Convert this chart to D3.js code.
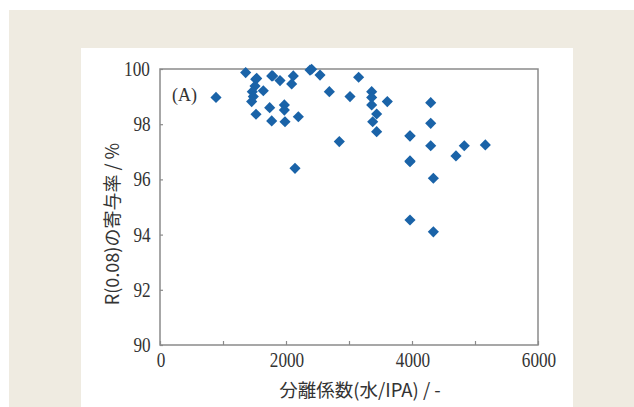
<!DOCTYPE html>
<html><head><meta charset="utf-8">
<script src="https://cdn.jsdelivr.net/npm/d3@7"></script>
<style>
html,body{margin:0;padding:0;background:#fff;}
svg{display:block;}
.cond{transform-box:fill-box;transform-origin:center;transform:scaleX(0.86);}
</style></head>
<body>
<svg id="c" width="634" height="407"></svg>
<script>
const sepFactor = [1360, 889, 1519, 1508, 1465, 1640, 1481, 1455, 1524, 1773, 1905, 2116, 2090, 1741, 1773, 1974, 1974, 1984, 2196, 2143, 2381,
  2407, 2540, 2688, 3153, 3016, 3360, 3360, 3360, 3608, 3439, 3376, 3439, 2846, 3968, 3968,
  4297, 4297, 3968, 4297, 4830, 5164, 4698, 3968, 4339, 3968, 4339, 1535, 1789];
const contribution = [99.87, 98.97, 99.63, 99.38, 99.18, 99.21, 99.0, 98.82, 98.36, 99.75, 99.58, 99.75, 99.46, 98.6, 98.12, 98.70, 98.51, 98.09, 98.27, 96.40, 99.96,
  99.99, 99.78, 99.18, 99.70, 99.0, 99.18, 98.97, 98.70, 98.82, 98.37, 98.09, 97.73, 97.37, 97.57, 96.64,
  98.78, 98.03, 97.58, 97.22, 97.22, 97.25, 96.85, 96.67, 96.04, 94.53, 94.10, 99.66, 99.75];
const xTickLabels = [0, 2000, 4000, 6000];
const xTicks = [0, 1000, 2000, 3000, 4000, 5000, 6000];
const yTickLabels = [90, 92, 94, 96, 98, 100];
const xTitle = "分離係数(水/IPA) / -";
const yTitle = "R(0.08)の寄与率 / %";
const panelLabel = "(A)";

const svg = d3.select("#c");
svg.append("rect").attr("x", 9).attr("y", 10).attr("width", 625).attr("height", 397).attr("fill", "#efebe1");
svg.append("rect").attr("x", 81).attr("y", 48).attr("width", 492).attr("height", 359).attr("fill", "#ffffff");

const L = 160, R = 538, T = 69, B = 345;
const x = d3.scaleLinear().domain([0, 6000]).range([L, R]);
const y = d3.scaleLinear().domain([90, 100]).range([B, T]);

const axisCol = "#8a8a8a";
const textCol = "#333";
const font = "'Liberation Serif', serif";

// frame
svg.append("rect").attr("x", L).attr("y", T).attr("width", R - L).attr("height", B - T)
  .attr("fill", "none").attr("stroke", axisCol).attr("stroke-width", 1.5);

// x axis
const xa = svg.append("g").attr("transform", `translate(0,${B})`)
  .call(d3.axisBottom(x).tickValues(xTicks).tickSizeInner(-4).tickSizeOuter(0).tickFormat(""));
xa.select(".domain").remove();
xa.selectAll("line").attr("stroke", axisCol).attr("stroke-width", 1.2);
svg.append("g").selectAll("text").data(xTickLabels).join("text")
  .attr("class", "cond")
  .attr("x", d => x(d) + 1).attr("y", 367)
  .attr("text-anchor", "middle").attr("font-family", font).attr("font-size", 20)
  .attr("fill", textCol).text(d => d);

// y axis
const ya = svg.append("g").attr("transform", `translate(${L},0)`)
  .call(d3.axisLeft(y).tickValues(yTickLabels).tickSizeInner(-3).tickSizeOuter(0).tickFormat(""));
ya.select(".domain").remove();
ya.selectAll("line").attr("stroke", axisCol).attr("stroke-width", 1.2);
svg.append("g").selectAll("text").data(yTickLabels).join("text")
  .attr("class", "cond")
  .attr("x", 152).attr("y", d => y(d) + 7)
  .attr("text-anchor", "end").attr("font-family", font).attr("font-size", 20)
  .attr("fill", textCol).text(d => d);

// titles
svg.append("text").attr("x", 360).attr("y", 397).attr("text-anchor", "middle")
  .attr("font-family", "'Noto Sans CJK JP', sans-serif").attr("font-size", 18.5)
  .attr("fill", textCol).text(xTitle);
svg.append("text").attr("transform", "translate(119,224) rotate(-90)").attr("text-anchor", "middle")
  .attr("font-family", "'Noto Sans CJK JP', sans-serif").attr("font-size", 18)
  .attr("fill", textCol).text(yTitle);

svg.append("text").attr("x", 172).attr("y", 101).attr("font-family", font).attr("font-size", 18)
  .attr("fill", textCol).text(panelLabel);

// points
const data = sepFactor.map((v, i) => ({x: v, y: contribution[i]}));
const sym = d3.symbol().type(d3.symbolSquare).size(62);
svg.append("g").selectAll("path").data(data).join("path")
  .attr("d", sym)
  .attr("transform", d => `translate(${x(d.x)},${y(d.y)}) rotate(45)`)
  .attr("fill", "#1a63a8");
</script>
</body></html>
